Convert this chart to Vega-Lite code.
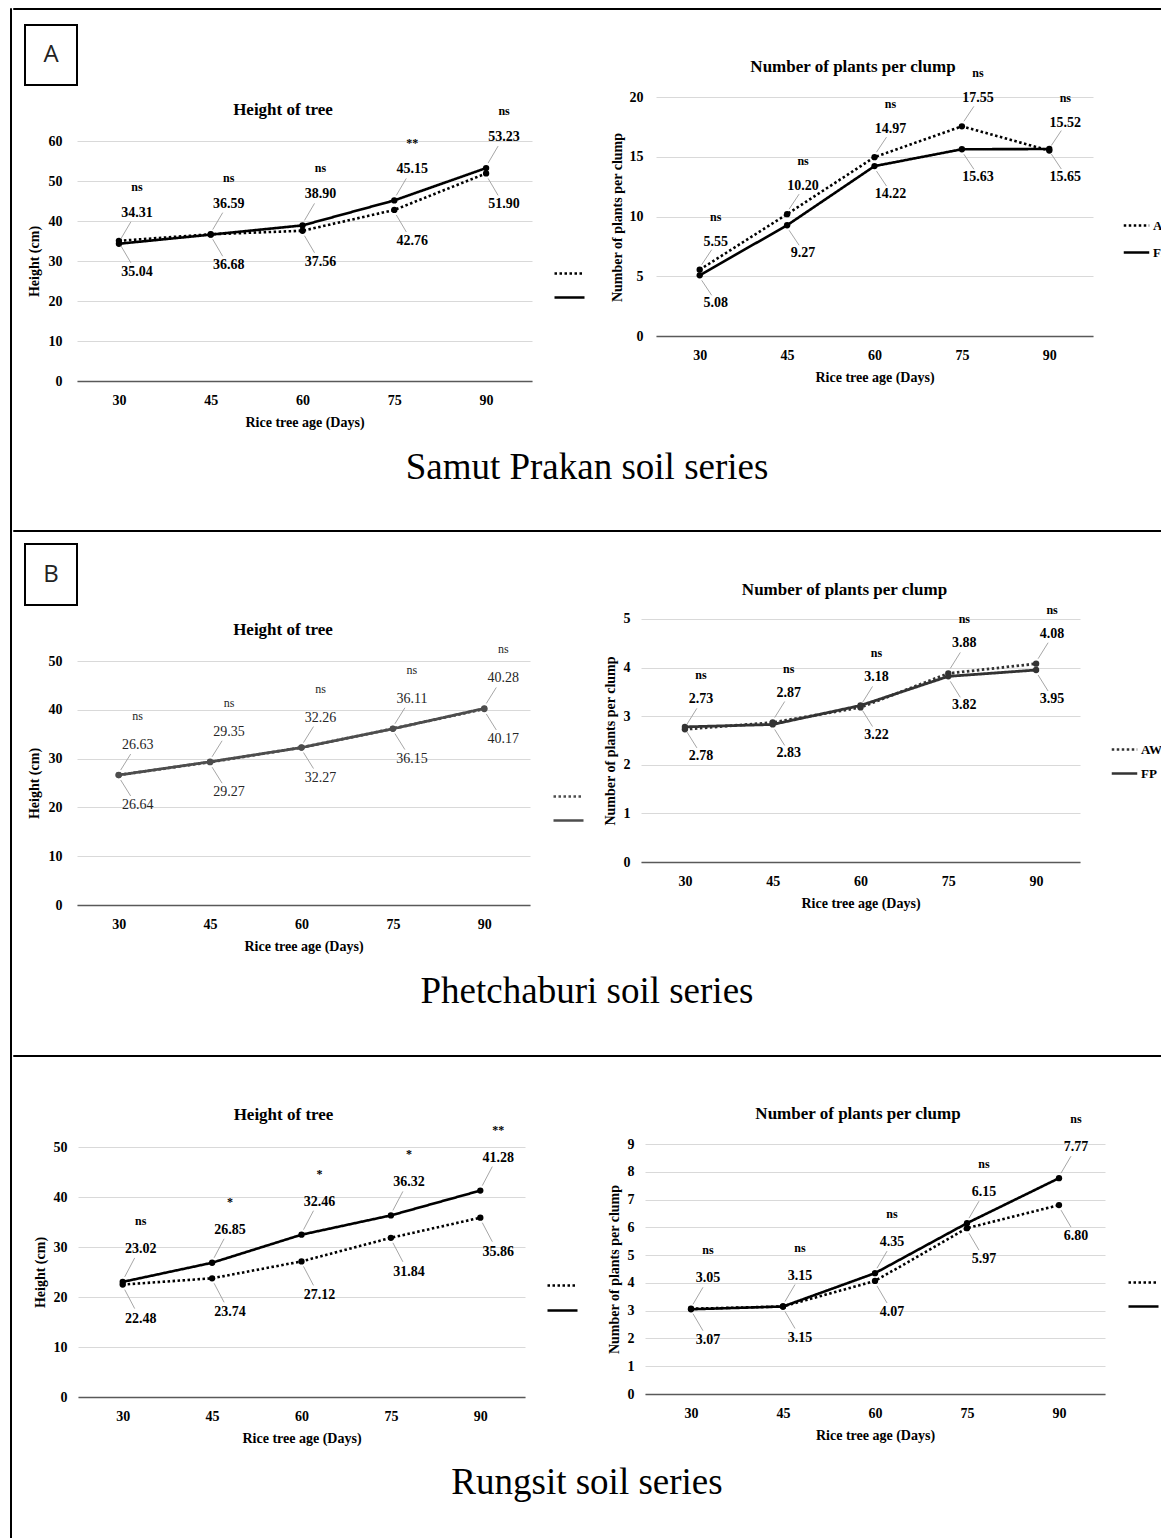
{
  "$schema": "https://vega.github.io/schema/vega-lite/v6.json",
  "padding": {"left": 9, "top": 7, "right": 0, "bottom": 0},
  "background": "white",
  "config": {
    "view": {"stroke": null},
    "font": "Liberation Serif",
    "text": {"font": "Liberation Serif", "fontWeight": "bold", "fontSize": 14, "color": "black"},
    "title": {"font": "Liberation Serif", "fontWeight": "bold", "fontSize": 17, "color": "black", "frame": "group", "anchor": "middle", "offset": 0, "baseline": "middle"},
    "axis": {"labelFont": "Liberation Serif", "labelFontWeight": "bold", "labelFontSize": 14, "labelColor": "black", "titleFont": "Liberation Serif", "titleFontWeight": "bold", "titleFontSize": 14, "titleColor": "black"},
    "axisX": {"ticks": false, "grid": false, "domain": true, "domainColor": "#595959", "domainWidth": 1.5, "labelPadding": 12, "titlePadding": 8, "labelAngle": 0, "format": "d"},
    "axisY": {"ticks": false, "grid": true, "gridColor": "#d9d9d9", "gridWidth": 1, "domain": false, "labelPadding": 11, "titlePadding": 6},
    "legend": {"orient": "none", "title": null, "symbolType": "stroke", "symbolStrokeColor": "black", "symbolStrokeWidth": 2.6, "symbolSize": 650, "labelFont": "Liberation Serif", "labelFontWeight": "bold", "labelFontSize": 13, "labelColor": "black", "labelOffset": 2, "padding": 0, "rowPadding": 5}
  },
  "datasets": {
    "A_h": [
      {"day": 30, "series": "AWD", "value": 35.04, "sig": "ns"},
      {"day": 30, "series": "FP", "value": 34.31, "sig": "ns"},
      {"day": 45, "series": "AWD", "value": 36.68, "sig": "ns"},
      {"day": 45, "series": "FP", "value": 36.59, "sig": "ns"},
      {"day": 60, "series": "AWD", "value": 37.56, "sig": "ns"},
      {"day": 60, "series": "FP", "value": 38.90, "sig": "ns"},
      {"day": 75, "series": "AWD", "value": 42.76, "sig": "**"},
      {"day": 75, "series": "FP", "value": 45.15, "sig": "**"},
      {"day": 90, "series": "AWD", "value": 51.90, "sig": "ns"},
      {"day": 90, "series": "FP", "value": 53.23, "sig": "ns"}
    ],
    "A_p": [
      {"day": 30, "series": "AWD", "value": 5.55, "sig": "ns"},
      {"day": 30, "series": "FP", "value": 5.08, "sig": "ns"},
      {"day": 45, "series": "AWD", "value": 10.20, "sig": "ns"},
      {"day": 45, "series": "FP", "value": 9.27, "sig": "ns"},
      {"day": 60, "series": "AWD", "value": 14.97, "sig": "ns"},
      {"day": 60, "series": "FP", "value": 14.22, "sig": "ns"},
      {"day": 75, "series": "AWD", "value": 17.55, "sig": "ns"},
      {"day": 75, "series": "FP", "value": 15.63, "sig": "ns"},
      {"day": 90, "series": "AWD", "value": 15.52, "sig": "ns"},
      {"day": 90, "series": "FP", "value": 15.65, "sig": "ns"}
    ],
    "B_h": [
      {"day": 30, "series": "AWD", "value": 26.64, "sig": "ns"},
      {"day": 30, "series": "FP", "value": 26.63, "sig": "ns"},
      {"day": 45, "series": "AWD", "value": 29.27, "sig": "ns"},
      {"day": 45, "series": "FP", "value": 29.35, "sig": "ns"},
      {"day": 60, "series": "AWD", "value": 32.27, "sig": "ns"},
      {"day": 60, "series": "FP", "value": 32.26, "sig": "ns"},
      {"day": 75, "series": "AWD", "value": 36.15, "sig": "ns"},
      {"day": 75, "series": "FP", "value": 36.11, "sig": "ns"},
      {"day": 90, "series": "AWD", "value": 40.17, "sig": "ns"},
      {"day": 90, "series": "FP", "value": 40.28, "sig": "ns"}
    ],
    "B_p": [
      {"day": 30, "series": "AWD", "value": 2.73, "sig": "ns"},
      {"day": 30, "series": "FP", "value": 2.78, "sig": "ns"},
      {"day": 45, "series": "AWD", "value": 2.87, "sig": "ns"},
      {"day": 45, "series": "FP", "value": 2.83, "sig": "ns"},
      {"day": 60, "series": "AWD", "value": 3.18, "sig": "ns"},
      {"day": 60, "series": "FP", "value": 3.22, "sig": "ns"},
      {"day": 75, "series": "AWD", "value": 3.88, "sig": "ns"},
      {"day": 75, "series": "FP", "value": 3.82, "sig": "ns"},
      {"day": 90, "series": "AWD", "value": 4.08, "sig": "ns"},
      {"day": 90, "series": "FP", "value": 3.95, "sig": "ns"}
    ],
    "C_h": [
      {"day": 30, "series": "AWD", "value": 22.48, "sig": "ns"},
      {"day": 30, "series": "FP", "value": 23.02, "sig": "ns"},
      {"day": 45, "series": "AWD", "value": 23.74, "sig": "*"},
      {"day": 45, "series": "FP", "value": 26.85, "sig": "*"},
      {"day": 60, "series": "AWD", "value": 27.12, "sig": "*"},
      {"day": 60, "series": "FP", "value": 32.46, "sig": "*"},
      {"day": 75, "series": "AWD", "value": 31.84, "sig": "*"},
      {"day": 75, "series": "FP", "value": 36.32, "sig": "*"},
      {"day": 90, "series": "AWD", "value": 35.86, "sig": "**"},
      {"day": 90, "series": "FP", "value": 41.28, "sig": "**"}
    ],
    "C_p": [
      {"day": 30, "series": "AWD", "value": 3.07, "sig": "ns"},
      {"day": 30, "series": "FP", "value": 3.05, "sig": "ns"},
      {"day": 45, "series": "AWD", "value": 3.15, "sig": "ns"},
      {"day": 45, "series": "FP", "value": 3.15, "sig": "ns"},
      {"day": 60, "series": "AWD", "value": 4.07, "sig": "ns"},
      {"day": 60, "series": "FP", "value": 4.35, "sig": "ns"},
      {"day": 75, "series": "AWD", "value": 5.97, "sig": "ns"},
      {"day": 75, "series": "FP", "value": 6.15, "sig": "ns"},
      {"day": 90, "series": "AWD", "value": 6.80, "sig": "ns"},
      {"day": 90, "series": "FP", "value": 7.77, "sig": "ns"}
    ]
  },
  "resolve": {"scale": {"x": "independent", "y": "independent", "strokeDash": "independent"}, "legend": {"strokeDash": "independent"}, "axis": {"x": "independent", "y": "independent"}},
  "spacing": 0,
  "hconcat": [
    {"width": 1, "height": 1530, "view": {"stroke": "black", "strokeWidth": 1}, "data": {"values": []}, "mark": "text", "encoding": {"text": {"value": ""}}},
    {
      "spacing": 0,
      "resolve": {"scale": {"x": "independent", "y": "independent", "strokeDash": "independent"}, "legend": {"strokeDash": "independent"}, "axis": {"x": "independent", "y": "independent"}},
      "vconcat": [
        {"width": 1154, "height": 1, "view": {"stroke": "black", "strokeWidth": 1}, "data": {"values": []}, "mark": "text", "encoding": {"text": {"value": ""}}},
        {
          "columns": 5, "bounds": "flush", "spacing": 0,
          "resolve": {"scale": {"x": "independent", "y": "independent", "strokeDash": "independent"}, "legend": {"strokeDash": "independent"}, "axis": {"x": "independent", "y": "independent"}},
          "concat": [
            {"width": 12, "height": 15, "data": {"values": []}, "mark": "text", "encoding": {"text": {"value": ""}}},
            {"width": 1, "height": 1, "data": {"values": []}, "mark": "text", "encoding": {"text": {"value": ""}}},
            {"width": 1, "height": 1, "data": {"values": []}, "mark": "text", "encoding": {"text": {"value": ""}}},
            {"width": 1, "height": 1, "data": {"values": []}, "mark": "text", "encoding": {"text": {"value": ""}}},
            {"width": 1, "height": 1, "data": {"values": []}, "mark": "text", "encoding": {"text": {"value": ""}}},
            {"width": 12, "height": 1, "data": {"values": []}, "mark": "text", "encoding": {"text": {"value": ""}}},
            {"width": 52, "height": 60, "view": {"stroke": "black", "strokeWidth": 2}, "data": {"values": [{"t": "A"}]}, "mark": {"type": "text", "font": "Open Sans", "fontWeight": "normal", "fontSize": 24, "color": "#222222"}, "encoding": {"text": {"field": "t"}}},
            {
              "width": 455, "height": 356,
              "data": {"name": "A_h"},
              "title": {"text": "Height of tree", "dx": -21.5, "dy": 98},
              "encoding": {
                "x": {"field": "day", "type": "quantitative", "scale": {"domain": [23.15, 97.5], "nice": false, "zero": false}, "axis": {"values": [30, 45, 60, 75, 90], "title": "Rice tree age (Days)"}},
                "y": {"field": "value", "type": "quantitative", "scale": {"domain": [0, 89], "nice": false}, "axis": {"values": [0, 10, 20, 30, 40, 50, 60], "title": "Height (cm)", "titleY": 236, "labelPadding": 15, "titlePadding": 7}}
              },
              "layer": [
                {"mark": {"type": "line", "color": "black", "strokeWidth": 2.6}, "encoding": {"strokeDash": {"field": "series", "type": "nominal", "scale": {"domain": ["AWD", "FP"], "range": [[2.5, 2.5], [1, 0]]}, "legend": {"legendX": 476, "legendY": 232, "labelExpr": "''", "symbolSize": 900, "rowPadding": 0}}}},
                {"mark": {"type": "circle", "color": "black", "size": 40, "opacity": 1}},
                {"transform": [{"filter": "datum.series == 'FP'"}], "mark": {"type": "rule", "color": "#a6a6a6", "strokeWidth": 1, "xOffset": 2, "yOffset": -5, "x2Offset": 12, "y2Offset": -22}, "encoding": {"x2": {"field": "day"}, "y2": {"field": "value"}}},
                {"transform": [{"filter": "datum.series == 'AWD'"}], "mark": {"type": "rule", "color": "#a6a6a6", "strokeWidth": 1, "xOffset": 2, "yOffset": 5, "x2Offset": 12, "y2Offset": 22}, "encoding": {"x2": {"field": "day"}, "y2": {"field": "value"}}},
                {"transform": [{"filter": "datum.series == 'FP'"}], "mark": {"type": "text", "dx": 18, "dy": -31}, "encoding": {"text": {"field": "value", "format": ".2f"}}},
                {"transform": [{"filter": "datum.series == 'AWD'"}], "mark": {"type": "text", "dx": 18, "dy": 31}, "encoding": {"text": {"field": "value", "format": ".2f"}}},
                {"transform": [{"filter": "datum.series == 'FP'"}], "mark": {"type": "text", "dx": 18, "dy": -57, "fontSize": 12}, "encoding": {"text": {"field": "sig"}}}
              ]
            },
            {"width": 124, "height": 1, "data": {"values": []}, "mark": "text", "encoding": {"text": {"value": ""}}},
            {
              "width": 437, "height": 311,
              "data": {"name": "A_p"},
              "title": {"text": "Number of plants per clump", "dx": -21.5, "dy": 55},
              "encoding": {
                "x": {"field": "day", "type": "quantitative", "scale": {"domain": [22.5, 97.5], "nice": false, "zero": false}, "axis": {"values": [30, 45, 60, 75, 90], "title": "Rice tree age (Days)"}},
                "y": {"field": "value", "type": "quantitative", "scale": {"domain": [0, 26.03], "nice": false}, "axis": {"values": [0, 5, 10, 15, 20], "title": "Number of plants per clump", "titleY": 192, "labelPadding": 13, "titlePadding": 5}}
              },
              "layer": [
                {"mark": {"type": "line", "color": "black", "strokeWidth": 2.6}, "encoding": {"strokeDash": {"field": "series", "type": "nominal", "scale": {"domain": ["AWD", "FP"], "range": [[2.5, 2.5], [1, 0]]}, "legend": {"legendX": 466, "legendY": 186, "rowPadding": 5}}}},
                {"mark": {"type": "circle", "color": "black", "size": 40, "opacity": 1}},
                {"transform": [{"filter": "datum.series == 'AWD'"}], "mark": {"type": "rule", "color": "#a6a6a6", "strokeWidth": 1, "xOffset": 2, "yOffset": -5, "x2Offset": 12, "y2Offset": -20}, "encoding": {"x2": {"field": "day"}, "y2": {"field": "value"}}},
                {"transform": [{"filter": "datum.series == 'FP'"}], "mark": {"type": "rule", "color": "#a6a6a6", "strokeWidth": 1, "xOffset": 2, "yOffset": 5, "x2Offset": 12, "y2Offset": 20}, "encoding": {"x2": {"field": "day"}, "y2": {"field": "value"}}},
                {"transform": [{"filter": "datum.series == 'AWD'"}], "mark": {"type": "text", "dx": 16, "dy": -28}, "encoding": {"text": {"field": "value", "format": ".2f"}}},
                {"transform": [{"filter": "datum.series == 'FP'"}], "mark": {"type": "text", "dx": 16, "dy": 28}, "encoding": {"text": {"field": "value", "format": ".2f"}}},
                {"transform": [{"filter": "datum.series == 'AWD'"}], "mark": {"type": "text", "dx": 16, "dy": -53, "fontSize": 12}, "encoding": {"text": {"field": "sig"}}}
              ]
            }
          ]
        },
        {"width": 1148, "height": 100, "data": {"values": [{"t": "Samut Prakan soil series"}]}, "mark": {"type": "text", "font": "Liberation Serif", "fontWeight": "normal", "fontSize": 37, "dy": -11}, "encoding": {"text": {"field": "t"}}},
        {"width": 1154, "height": 1, "view": {"stroke": "black", "strokeWidth": 1}, "data": {"values": []}, "mark": "text", "encoding": {"text": {"value": ""}}},
        {
          "columns": 5, "bounds": "flush", "spacing": 0,
          "resolve": {"scale": {"x": "independent", "y": "independent", "strokeDash": "independent"}, "legend": {"strokeDash": "independent"}, "axis": {"x": "independent", "y": "independent"}},
          "concat": [
            {"width": 12, "height": 12, "data": {"values": []}, "mark": "text", "encoding": {"text": {"value": ""}}},
            {"width": 1, "height": 1, "data": {"values": []}, "mark": "text", "encoding": {"text": {"value": ""}}},
            {"width": 1, "height": 1, "data": {"values": []}, "mark": "text", "encoding": {"text": {"value": ""}}},
            {"width": 1, "height": 1, "data": {"values": []}, "mark": "text", "encoding": {"text": {"value": ""}}},
            {"width": 1, "height": 1, "data": {"values": []}, "mark": "text", "encoding": {"text": {"value": ""}}},
            {"width": 12, "height": 1, "data": {"values": []}, "mark": "text", "encoding": {"text": {"value": ""}}},
            {"width": 52, "height": 61, "view": {"stroke": "black", "strokeWidth": 2}, "data": {"values": [{"t": "B"}]}, "mark": {"type": "text", "font": "Open Sans", "fontWeight": "normal", "fontSize": 24, "color": "#222222"}, "encoding": {"text": {"field": "t"}}},
            {
              "width": 453, "height": 361,
              "data": {"name": "B_h"},
              "title": {"text": "Height of tree", "dx": -20.5, "dy": 99},
              "encoding": {
                "x": {"field": "day", "type": "quantitative", "scale": {"domain": [23.16, 97.5], "nice": false, "zero": false}, "axis": {"values": [30, 45, 60, 75, 90], "title": "Rice tree age (Days)"}},
                "y": {"field": "value", "type": "quantitative", "scale": {"domain": [0, 73.98], "nice": false}, "axis": {"values": [0, 10, 20, 30, 40, 50], "title": "Height (cm)", "titleY": 239, "labelPadding": 15, "titlePadding": 7}}
              },
              "layer": [
                {"mark": {"type": "line", "color": "#4d4d4d", "strokeWidth": 2.8}, "encoding": {"strokeDash": {"field": "series", "type": "nominal", "scale": {"domain": ["AWD", "FP"], "range": [[2.5, 2.5], [1, 0]]}, "legend": {"legendX": 475, "legendY": 236, "labelExpr": "''", "symbolSize": 900, "rowPadding": 0, "symbolStrokeColor": "#4d4d4d"}}}},
                {"mark": {"type": "circle", "color": "#4d4d4d", "size": 40, "opacity": 1}},
                {"transform": [{"filter": "datum.series == 'FP'"}], "mark": {"type": "rule", "color": "#a6a6a6", "strokeWidth": 1, "xOffset": 2, "yOffset": -5, "x2Offset": 12, "y2Offset": -21}, "encoding": {"x2": {"field": "day"}, "y2": {"field": "value"}}},
                {"transform": [{"filter": "datum.series == 'AWD'"}], "mark": {"type": "rule", "color": "#a6a6a6", "strokeWidth": 1, "xOffset": 2, "yOffset": 5, "x2Offset": 12, "y2Offset": 21}, "encoding": {"x2": {"field": "day"}, "y2": {"field": "value"}}},
                {"transform": [{"filter": "datum.series == 'FP'"}], "mark": {"type": "text", "dx": 19, "dy": -30, "fontWeight": "normal", "color": "#262626"}, "encoding": {"text": {"field": "value", "format": ".2f"}}},
                {"transform": [{"filter": "datum.series == 'AWD'"}], "mark": {"type": "text", "dx": 19, "dy": 30, "fontWeight": "normal", "color": "#262626"}, "encoding": {"text": {"field": "value", "format": ".2f"}}},
                {"transform": [{"filter": "datum.series == 'FP'"}], "mark": {"type": "text", "dx": 19, "dy": -59, "fontSize": 12, "fontWeight": "normal", "color": "#262626"}, "encoding": {"text": {"field": "sig"}}}
              ]
            },
            {"width": 111, "height": 1, "data": {"values": []}, "mark": "text", "encoding": {"text": {"value": ""}}},
            {
              "width": 439, "height": 318,
              "data": {"name": "B_p"},
              "title": {"text": "Number of plants per clump", "dx": -16, "dy": 59},
              "encoding": {
                "x": {"field": "day", "type": "quantitative", "scale": {"domain": [22.5, 97.5], "nice": false, "zero": false}, "axis": {"values": [30, 45, 60, 75, 90], "title": "Rice tree age (Days)"}},
                "y": {"field": "value", "type": "quantitative", "scale": {"domain": [0, 6.543], "nice": false}, "axis": {"values": [0, 1, 2, 3, 4, 5], "title": "Number of plants per clump", "titleY": 196.5}}
              },
              "layer": [
                {"mark": {"type": "line", "color": "#333333", "strokeWidth": 2.8}, "encoding": {"strokeDash": {"field": "series", "type": "nominal", "scale": {"domain": ["AWD", "FP"], "range": [[2.5, 2.5], [1, 0]]}, "legend": {"legendX": 469, "legendY": 191, "rowPadding": 2, "symbolStrokeColor": "#333333"}}}},
                {"mark": {"type": "circle", "color": "#333333", "size": 40, "opacity": 1}},
                {"transform": [{"filter": "datum.series == 'AWD'"}], "mark": {"type": "rule", "color": "#a6a6a6", "strokeWidth": 1, "xOffset": 2, "yOffset": -5, "x2Offset": 12, "y2Offset": -21}, "encoding": {"x2": {"field": "day"}, "y2": {"field": "value"}}},
                {"transform": [{"filter": "datum.series == 'FP'"}], "mark": {"type": "rule", "color": "#a6a6a6", "strokeWidth": 1, "xOffset": 2, "yOffset": 5, "x2Offset": 12, "y2Offset": 21}, "encoding": {"x2": {"field": "day"}, "y2": {"field": "value"}}},
                {"transform": [{"filter": "datum.series == 'AWD'"}], "mark": {"type": "text", "dx": 16, "dy": -30}, "encoding": {"text": {"field": "value", "format": ".2f"}}},
                {"transform": [{"filter": "datum.series == 'FP'"}], "mark": {"type": "text", "dx": 16, "dy": 29}, "encoding": {"text": {"field": "value", "format": ".2f"}}},
                {"transform": [{"filter": "datum.series == 'AWD'"}], "mark": {"type": "text", "dx": 16, "dy": -54, "fontSize": 12}, "encoding": {"text": {"field": "sig"}}}
              ]
            }
          ]
        },
        {"width": 1148, "height": 101, "data": {"values": [{"t": "Phetchaburi soil series"}]}, "mark": {"type": "text", "font": "Liberation Serif", "fontWeight": "normal", "fontSize": 37, "dy": -11.5}, "encoding": {"text": {"field": "t"}}},
        {"width": 1154, "height": 1, "view": {"stroke": "black", "strokeWidth": 1}, "data": {"values": []}, "mark": "text", "encoding": {"text": {"value": ""}}},
        {
          "bounds": "flush", "spacing": 0,
          "resolve": {"scale": {"x": "independent", "y": "independent", "strokeDash": "independent"}, "legend": {"strokeDash": "independent"}, "axis": {"x": "independent", "y": "independent"}},
          "hconcat": [
            {"width": 65, "height": 1, "data": {"values": []}, "mark": "text", "encoding": {"text": {"value": ""}}},
            {
              "width": 447, "height": 340,
              "data": {"name": "C_h"},
              "title": {"text": "Height of tree", "dx": -18, "dy": 71},
              "encoding": {
                "x": {"field": "day", "type": "quantitative", "scale": {"domain": [22.5, 97.5], "nice": false, "zero": false}, "axis": {"values": [30, 45, 60, 75, 90], "title": "Rice tree age (Days)"}},
                "y": {"field": "value", "type": "quantitative", "scale": {"domain": [0, 68], "nice": false}, "axis": {"values": [0, 10, 20, 30, 40, 50], "title": "Height (cm)", "titleY": 215}}
              },
              "layer": [
                {"mark": {"type": "line", "color": "black", "strokeWidth": 2.6}, "encoding": {"strokeDash": {"field": "series", "type": "nominal", "scale": {"domain": ["AWD", "FP"], "range": [[2.5, 2.5], [1, 0]]}, "legend": {"legendX": 468, "legendY": 212, "labelExpr": "''", "symbolSize": 900, "rowPadding": 1}}}},
                {"mark": {"type": "circle", "color": "black", "size": 40, "opacity": 1}},
                {"transform": [{"filter": "datum.series == 'FP'"}], "mark": {"type": "rule", "color": "#a6a6a6", "strokeWidth": 1, "xOffset": 2, "yOffset": -5, "x2Offset": 12, "y2Offset": -24}, "encoding": {"x2": {"field": "day"}, "y2": {"field": "value"}}},
                {"transform": [{"filter": "datum.series == 'AWD'"}], "mark": {"type": "rule", "color": "#a6a6a6", "strokeWidth": 1, "xOffset": 2, "yOffset": 5, "x2Offset": 12, "y2Offset": 24}, "encoding": {"x2": {"field": "day"}, "y2": {"field": "value"}}},
                {"transform": [{"filter": "datum.series == 'FP'"}], "mark": {"type": "text", "dx": 18, "dy": -33}, "encoding": {"text": {"field": "value", "format": ".2f"}}},
                {"transform": [{"filter": "datum.series == 'AWD'"}], "mark": {"type": "text", "dx": 18, "dy": 34}, "encoding": {"text": {"field": "value", "format": ".2f"}}},
                {"transform": [{"filter": "datum.series == 'FP'"}], "mark": {"type": "text", "dx": 18, "dy": -61, "fontSize": 12}, "encoding": {"text": {"field": "sig"}}}
              ]
            },
            {"width": 120, "height": 1, "data": {"values": []}, "mark": "text", "encoding": {"text": {"value": ""}}},
            {
              "width": 460, "height": 337,
              "data": {"name": "C_p"},
              "title": {"text": "Number of plants per clump", "dx": -17, "dy": 70},
              "encoding": {
                "x": {"field": "day", "type": "quantitative", "scale": {"domain": [22.5, 97.5], "nice": false, "zero": false}, "axis": {"values": [30, 45, 60, 75, 90], "title": "Rice tree age (Days)"}},
                "y": {"field": "value", "type": "quantitative", "scale": {"domain": [0, 12.132], "nice": false}, "axis": {"values": [0, 1, 2, 3, 4, 5, 6, 7, 8, 9], "title": "Number of plants per clump", "titleY": 212}}
              },
              "layer": [
                {"mark": {"type": "line", "color": "black", "strokeWidth": 2.6}, "encoding": {"strokeDash": {"field": "series", "type": "nominal", "scale": {"domain": ["AWD", "FP"], "range": [[2.5, 2.5], [1, 0]]}, "legend": {"legendX": 482, "legendY": 209, "symbolSize": 900, "rowPadding": 0}}}},
                {"mark": {"type": "circle", "color": "black", "size": 40, "opacity": 1}},
                {"transform": [{"filter": "datum.series == 'FP'"}], "mark": {"type": "rule", "color": "#a6a6a6", "strokeWidth": 1, "xOffset": 2, "yOffset": -5, "x2Offset": 12, "y2Offset": -22}, "encoding": {"x2": {"field": "day"}, "y2": {"field": "value"}}},
                {"transform": [{"filter": "datum.series == 'AWD'"}], "mark": {"type": "rule", "color": "#a6a6a6", "strokeWidth": 1, "xOffset": 2, "yOffset": 5, "x2Offset": 12, "y2Offset": 22}, "encoding": {"x2": {"field": "day"}, "y2": {"field": "value"}}},
                {"transform": [{"filter": "datum.series == 'FP'"}], "mark": {"type": "text", "dx": 17, "dy": -31}, "encoding": {"text": {"field": "value", "format": ".2f"}}},
                {"transform": [{"filter": "datum.series == 'AWD'"}], "mark": {"type": "text", "dx": 17, "dy": 31}, "encoding": {"text": {"field": "value", "format": ".2f"}}},
                {"transform": [{"filter": "datum.series == 'FP'"}], "mark": {"type": "text", "dx": 17, "dy": -59, "fontSize": 12}, "encoding": {"text": {"field": "sig"}}}
              ]
            }
          ]
        },
        {"width": 1148, "height": 90, "data": {"values": [{"t": "Rungsit soil series"}]}, "mark": {"type": "text", "font": "Liberation Serif", "fontWeight": "normal", "fontSize": 37, "dy": -7}, "encoding": {"text": {"field": "t"}}}
      ]
    }
  ]
}
